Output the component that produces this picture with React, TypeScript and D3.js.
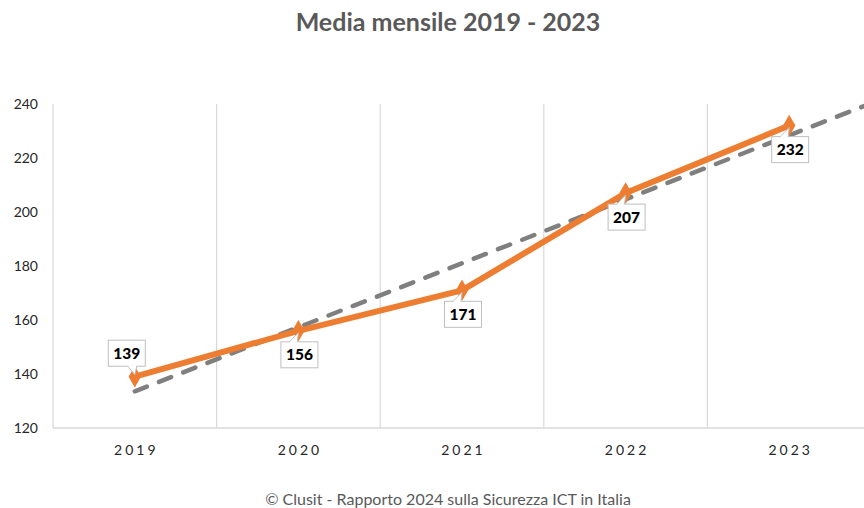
import React, { useEffect } from "react";
import * as d3 from "d3";

const categories = ["2019", "2020", "2021", "2022", "2023"];
const values = [139, 156, 171, 207, 232];
const yTicks = [120, 140, 160, 180, 200, 220, 240];
const labelSides = ["above", "below", "below", "below", "below"];
const titleText = "Media mensile 2019 - 2023";
const footerText = "© Clusit - Rapporto 2024 sulla Sicurezza ICT in Italia";

const W = 864;
const H = 508;
const M = { left: 53, right: 871, top: 104, bottom: 428 };

export default function App() {
  useEffect(() => {
    document.body.style.margin = "0";
  }, []);

  const x = d3.scaleBand().domain(categories).range([M.left, M.right]).padding(0);
  const cx = (i: number) => M.left + x.bandwidth() * (i + 0.5);
  const y = d3.scaleLinear().domain([120, 240]).range([M.bottom, M.top]);

  // linear trend (least squares) on the series, extended forward 0.5 period
  const n = values.length;
  const xs = values.map((_, i) => i);
  const mx = d3.mean(xs) as number;
  const my = d3.mean(values) as number;
  const slope =
    d3.sum(xs.map((xi, i) => (xi - mx) * (values[i] - my))) /
    d3.sum(xs.map((xi) => (xi - mx) ** 2));
  const trend = (t: number) => my + slope * (t - mx);
  const trendPts: [number, number][] = [0, n - 1 + 0.5].map((t) => [
    M.left + x.bandwidth() * (t + 0.5),
    y(trend(t)),
  ]);

  const line = d3.line<[number, number]>();
  const dataPts: [number, number][] = values.map((v, i) => [cx(i), y(v)]);
  const diamond = d3.symbol().type(d3.symbolDiamond).size(70)() as string;

  const boundaries = d3.range(0, categories.length + 1).map((i) => M.left + x.bandwidth() * i);

  const boxW = 37;
  const boxH = 26;

  return (
    <svg width={W} height={H} style={{ display: "block", background: "#fff" }}>
      <text
        x={448}
        y={31}
        textAnchor="middle"
        fontFamily="Lato, 'Open Sans', sans-serif"
        fontWeight={700}
        fontSize={25}
        fill="#595959"
      >
        {titleText}
      </text>

      {/* vertical gridlines */}
      {boundaries.map((bx, i) => (
        <line key={i} x1={bx} x2={bx} y1={M.top} y2={M.bottom} stroke="#d9d9d9" strokeWidth={1.2} />
      ))}
      {/* x axis */}
      <line x1={M.left} x2={W} y1={M.bottom} y2={M.bottom} stroke="#d9d9d9" strokeWidth={1.5} />

      {/* y tick labels */}
      {yTicks.map((t) => (
        <text
          key={t}
          x={38}
          y={y(t) + 5}
          textAnchor="end"
          fontFamily="Lato, sans-serif"
          fontSize={14}
          fill="#262626"
        >
          {t}
        </text>
      ))}

      {/* x labels */}
      {categories.map((c, i) => (
        <text
          key={c}
          x={cx(i) + 1.5}
          y={455}
          textAnchor="middle"
          fontFamily="Lato, sans-serif"
          fontSize={14}
          letterSpacing={3}
          fill="#262626"
        >
          {c}
        </text>
      ))}

      {/* trendline */}
      <path
        d={line(trendPts) as string}
        fill="none"
        stroke="#7f7f7f"
        strokeWidth={4.5}
        strokeLinecap="round"
        strokeDasharray="13 13"
      />

      {/* series */}
      <path
        d={line(dataPts) as string}
        fill="none"
        stroke="#ED7D31"
        strokeWidth={6}
        strokeLinejoin="round"
      />
      {dataPts.map(([px, py], i) => (
        <path
          key={i}
          d={diamond}
          transform={`translate(${px},${py})`}
          fill="#ED7D31"
          stroke="#ED7D31"
          strokeWidth={3}
        />
      ))}

      {/* callout labels */}
      {dataPts.map(([px, py], i) => {
        const above = labelSides[i] === "above";
        const bx = above ? px - 8 - boxW / 2 : px + 1 - boxW / 2;
        const by = above ? py - 23.5 - boxH / 2 : py + 24 - boxH / 2;
        const edgeY = above ? by + boxH : by;
        const baseX = above ? px - 3 : px - 9;
        const tri = above
          ? `M${baseX - 4},${edgeY} L${px},${py - 2} L${baseX + 5},${edgeY}`
          : `M${baseX},${edgeY} L${px},${py + 2} L${baseX + 8},${edgeY}`;
        return (
          <g key={i}>
            <rect x={bx} y={by} width={boxW} height={boxH} fill="#fff" stroke="#bfbfbf" strokeWidth={1} />
            <path d={tri} fill="#fff" stroke="#bfbfbf" strokeWidth={1} />
            <line
              x1={baseX - (above ? 4 : 0) + 0.8}
              x2={baseX + (above ? 5 : 8) - 0.8}
              y1={edgeY}
              y2={edgeY}
              stroke="#fff"
              strokeWidth={2}
            />
            <text
              x={bx + boxW / 2}
              y={by + boxH / 2 + 5.5}
              textAnchor="middle"
              fontFamily="Lato, sans-serif"
              fontWeight={900}
              fontSize={15.5}
              fill="#000"
            >
              {values[i]}
            </text>
          </g>
        );
      })}

      <text
        x={448}
        y={505}
        textAnchor="middle"
        fontFamily="Lato, sans-serif"
        fontSize={16}
        fill="#595959"
      >
        {footerText}
      </text>
    </svg>
  );
}
